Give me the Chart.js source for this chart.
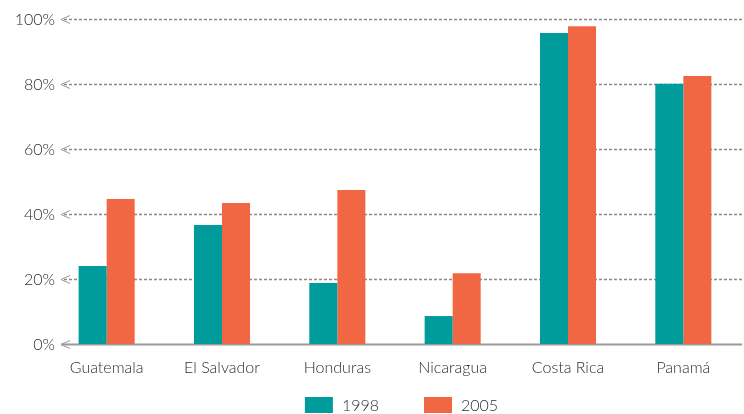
<!DOCTYPE html>
<html>
<head>
<meta charset="utf-8">
<script src="https://cdn.jsdelivr.net/npm/chart.js@4.4.1/dist/chart.umd.min.js"></script>
<style>
  html, body { margin: 0; padding: 0; background: #fff; }
  #wrap { width: 744px; height: 414px; position: relative; }
</style>
</head>
<body>
<div id="wrap"><canvas id="chart"></canvas></div>
<script>
const countries = ["Guatemala", "El Salvador", "Honduras", "Nicaragua", "Costa Rica", "Panamá"];
const values1998 = [24, 36.6, 18.8, 8.6, 95.7, 80.1];
const values2005 = [44.6, 43.4, 47.4, 21.8, 97.8, 82.5];
const yTicks = [0, 20, 40, 60, 80, 100];

const textColor = "#2e2e2e";
const fontFamily = "Lato, 'Open Sans', sans-serif";

// dashed grid lines with "<" arrows on the left, solid line at 0, and the % labels
const gridArrows = {
  id: "gridArrows",
  beforeDatasetsDraw(chart) {
    const ctx = chart.ctx;
    const y = chart.scales.y;
    const x0 = 61, x1 = 742;
    ctx.save();
    yTicks.forEach(function (t) {
      const py = Math.round(y.getPixelForValue(t)) + 0.5;
      ctx.setLineDash([]);
      ctx.fillStyle = textColor;
      ctx.font = "300 16px " + fontFamily;
      ctx.textAlign = "right";
      ctx.textBaseline = "middle";
      ctx.fillText(t + "%", 55, py);
      ctx.strokeStyle = "#999";
      ctx.lineWidth = 1;
      ctx.beginPath();
      ctx.moveTo(x0 + 9, py - 4);
      ctx.lineTo(x0, py);
      ctx.lineTo(x0 + 9, py + 4);
      ctx.stroke();
      ctx.beginPath();
      if (t === 0) {
        ctx.strokeStyle = "#9a9a9a";
        ctx.lineWidth = 2;
        ctx.moveTo(x0, py);
      } else {
        ctx.strokeStyle = "#8a8a8a";
        ctx.lineWidth = 1.5;
        ctx.setLineDash([3, 2]);
        ctx.moveTo(x0 + 3, py);
      }
      ctx.lineTo(x1, py);
      ctx.stroke();
    });
    ctx.restore();
  }
};

// legend at the bottom, built from the datasets
const bottomLegend = {
  id: "bottomLegend",
  afterDraw(chart) {
    const ctx = chart.ctx;
    const sets = chart.data.datasets;
    ctx.save();
    ctx.font = "300 16px " + fontFamily;
    ctx.textBaseline = "middle";
    const boxW = 28, boxH = 16, gap = 9, spacing = 45;
    let total = 0;
    sets.forEach(function (d, i) {
      total += boxW + gap + ctx.measureText(d.label).width;
      if (i < sets.length - 1) total += spacing;
    });
    let x = 401.5 - total / 2;
    const cy = 405;
    sets.forEach(function (d) {
      ctx.fillStyle = d.backgroundColor;
      ctx.fillRect(x, cy - boxH / 2, boxW, boxH);
      x += boxW + gap;
      ctx.fillStyle = textColor;
      ctx.fillText(d.label, x, cy + 1);
      x += ctx.measureText(d.label).width + spacing;
    });
    ctx.restore();
  }
};

new Chart(document.getElementById("chart").getContext("2d"), {
  type: "bar",
  data: {
    labels: countries,
    datasets: [
      { label: "1998", data: values1998, backgroundColor: "#009B9B" },
      { label: "2005", data: values2005, backgroundColor: "#F26743" }
    ]
  },
  options: {
    responsive: true,
    maintainAspectRatio: false,
    animation: false,
    layout: { padding: { top: 19, right: 3, left: 0, bottom: 0 } },
    datasets: { bar: { categoryPercentage: 0.486, barPercentage: 1 } },
    plugins: { legend: { display: false }, tooltip: { enabled: false } },
    scales: {
      x: {
        grid: { display: false },
        border: { display: false },
        ticks: { color: textColor, font: { family: fontFamily, size: 16, weight: 300 }, padding: 6, maxRotation: 0 },
        afterFit: function (s) { s.height = 70; }
      },
      y: {
        min: 0,
        max: 100,
        grid: { display: false, drawTicks: false },
        border: { display: false },
        ticks: { display: false, stepSize: 20 },
        afterFit: function (s) { s.width = 49; }
      }
    }
  },
  plugins: [gridArrows, bottomLegend]
});
</script>
</body>
</html>
